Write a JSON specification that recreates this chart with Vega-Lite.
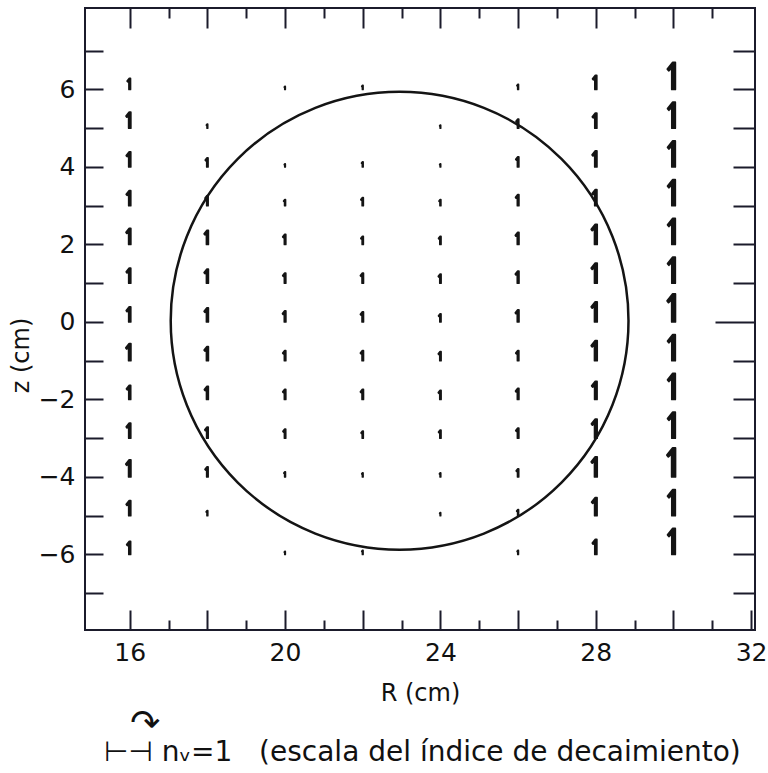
{
  "$schema": "https://vega.github.io/schema/vega-lite/v6.json",
  "autosize": {"type": "none"},
  "width": 670,
  "height": 622,
  "padding": {"left": 85, "top": 8, "right": 13, "bottom": 143},
  "background": "white",
  "config": {
    "view": {"stroke": "#1b1b2b", "strokeWidth": 2},
    "font": "DejaVu Sans",
    "axis": {
      "domain": false,
      "grid": false,
      "tickColor": "#1b1b2b",
      "tickWidth": 2,
      "labelFont": "DejaVu Sans",
      "labelFontSize": 25,
      "labelColor": "#111111",
      "titleFont": "DejaVu Sans",
      "titleFontSize": 24,
      "titleFontWeight": "normal",
      "titleColor": "#111111",
      "labelOverlap": false,
      "labelFlush": false
    }
  },
  "title": {
    "text": "\u2800\u21b7",
    "subtitle": "\u22a2\u22a3 n\u1d65=1\u00a0\u00a0 (escala del \u00edndice de decaimiento)",
    "orient": "bottom",
    "anchor": "start",
    "font": "DejaVu Sans",
    "fontSize": 36,
    "fontWeight": "normal",
    "color": "#111111",
    "subtitleFont": "DejaVu Sans",
    "subtitleFontSize": 28,
    "subtitleColor": "#111111",
    "subtitlePadding": -4,
    "offset": 2,
    "dx": 95
  },
  "datasets": {
    "decay": [
      {"R": 16, "z": 6, "n": 0.55}, {"R": 16, "z": 5, "n": 0.8}, {"R": 16, "z": 4, "n": 0.75},
      {"R": 16, "z": 3, "n": 0.75}, {"R": 16, "z": 2, "n": 0.8}, {"R": 16, "z": 1, "n": 0.75},
      {"R": 16, "z": 0, "n": 0.75}, {"R": 16, "z": -1, "n": 0.85}, {"R": 16, "z": -2, "n": 0.7},
      {"R": 16, "z": -3, "n": 0.75}, {"R": 16, "z": -4, "n": 0.85}, {"R": 16, "z": -5, "n": 0.75},
      {"R": 16, "z": -6, "n": 0.65},
      {"R": 18, "z": 5, "n": 0.2}, {"R": 18, "z": 4, "n": 0.45}, {"R": 18, "z": 3, "n": 0.5},
      {"R": 18, "z": 2, "n": 0.7}, {"R": 18, "z": 1, "n": 0.7}, {"R": 18, "z": 0, "n": 0.7},
      {"R": 18, "z": -1, "n": 0.7}, {"R": 18, "z": -2, "n": 0.65}, {"R": 18, "z": -3, "n": 0.55},
      {"R": 18, "z": -4, "n": 0.5}, {"R": 18, "z": -5, "n": 0.25},
      {"R": 20, "z": 6, "n": 0.15}, {"R": 20, "z": 4, "n": 0.15}, {"R": 20, "z": 3, "n": 0.3},
      {"R": 20, "z": 2, "n": 0.5}, {"R": 20, "z": 1, "n": 0.5}, {"R": 20, "z": 0, "n": 0.55},
      {"R": 20, "z": -1, "n": 0.5}, {"R": 20, "z": -2, "n": 0.5}, {"R": 20, "z": -3, "n": 0.45},
      {"R": 20, "z": -4, "n": 0.25}, {"R": 20, "z": -6, "n": 0.15},
      {"R": 22, "z": 6, "n": 0.2}, {"R": 22, "z": 4, "n": 0.25}, {"R": 22, "z": 3, "n": 0.4},
      {"R": 22, "z": 2, "n": 0.4}, {"R": 22, "z": 1, "n": 0.5}, {"R": 22, "z": 0, "n": 0.5},
      {"R": 22, "z": -1, "n": 0.5}, {"R": 22, "z": -2, "n": 0.5}, {"R": 22, "z": -3, "n": 0.35},
      {"R": 22, "z": -4, "n": 0.2}, {"R": 22, "z": -6, "n": 0.2},
      {"R": 24, "z": 5, "n": 0.15}, {"R": 24, "z": 4, "n": 0.15}, {"R": 24, "z": 3, "n": 0.3},
      {"R": 24, "z": 2, "n": 0.4}, {"R": 24, "z": 1, "n": 0.45}, {"R": 24, "z": 0, "n": 0.4},
      {"R": 24, "z": -1, "n": 0.45}, {"R": 24, "z": -2, "n": 0.45}, {"R": 24, "z": -3, "n": 0.4},
      {"R": 24, "z": -4, "n": 0.2}, {"R": 24, "z": -5, "n": 0.15},
      {"R": 26, "z": 6, "n": 0.25}, {"R": 26, "z": 5, "n": 0.45}, {"R": 26, "z": 4, "n": 0.5},
      {"R": 26, "z": 3, "n": 0.55}, {"R": 26, "z": 2, "n": 0.6}, {"R": 26, "z": 1, "n": 0.6},
      {"R": 26, "z": 0, "n": 0.6}, {"R": 26, "z": -1, "n": 0.5}, {"R": 26, "z": -2, "n": 0.55},
      {"R": 26, "z": -3, "n": 0.5}, {"R": 26, "z": -4, "n": 0.4}, {"R": 26, "z": -5, "n": 0.3},
      {"R": 26, "z": -6, "n": 0.2},
      {"R": 28, "z": 6, "n": 0.7}, {"R": 28, "z": 5, "n": 0.75}, {"R": 28, "z": 4, "n": 0.8},
      {"R": 28, "z": 3, "n": 0.8}, {"R": 28, "z": 2, "n": 1.0}, {"R": 28, "z": 1, "n": 1.0},
      {"R": 28, "z": 0, "n": 1.0}, {"R": 28, "z": -1, "n": 1.0}, {"R": 28, "z": -2, "n": 0.9},
      {"R": 28, "z": -3, "n": 0.95}, {"R": 28, "z": -4, "n": 1.0}, {"R": 28, "z": -5, "n": 0.9},
      {"R": 28, "z": -6, "n": 0.75},
      {"R": 30, "z": 6, "n": 1.35}, {"R": 30, "z": 5, "n": 1.3}, {"R": 30, "z": 4, "n": 1.3},
      {"R": 30, "z": 3, "n": 1.3}, {"R": 30, "z": 2, "n": 1.3}, {"R": 30, "z": 1, "n": 1.3},
      {"R": 30, "z": 0, "n": 1.4}, {"R": 30, "z": -1, "n": 1.3}, {"R": 30, "z": -2, "n": 1.3},
      {"R": 30, "z": -3, "n": 1.3}, {"R": 30, "z": -4, "n": 1.45}, {"R": 30, "z": -5, "n": 1.3},
      {"R": 30, "z": -6, "n": 1.3}
    ],
    "plasma": [
      {"R": 22.95, "z": 0.03, "diameter": 11.8}
    ]
  },
  "layer": [
    {
      "data": {"name": "decay"},
      "mark": {
        "type": "point",
        "shape": "M 0.14 0 L 0.14 -2 L -0.05 -2 L -0.45 -1.5 L -0.35 -1.38 L -0.12 -1.6 L -0.12 0 Z",
        "fill": "#141414",
        "stroke": "#141414",
        "strokeWidth": 1.8,
        "strokeJoin": "round",
        "opacity": 1,
        "fillOpacity": 1
      },
      "encoding": {
        "x": {
          "field": "R", "type": "quantitative",
          "scale": {"domain": [14.85, 32.1], "nice": false, "zero": false},
          "axis": {
            "orient": "bottom",
            "title": "R (cm)",
            "values": [16, 17, 18, 19, 20, 21, 22, 23, 24, 25, 26, 27, 28, 29, 30, 31, 32],
            "tickSize": {"condition": {"test": "datum.value % 2 == 0", "value": -20}, "value": -10},
            "labelExpr": "datum.value % 4 == 0 ? datum.label : ''",
            "labelPadding": 30,
            "titlePadding": 6
          }
        },
        "y": {
          "field": "z", "type": "quantitative",
          "scale": {"domain": [-7.95, 8.1], "nice": false, "zero": false},
          "axis": {
            "orient": "left",
            "title": "z (cm)",
            "values": [-7, -6, -5, -4, -3, -2, -1, 0, 1, 2, 3, 4, 5, 6, 7],
            "tickSize": -18,
            "labelExpr": "datum.value % 2 == 0 ? datum.label : ''",
            "labelPadding": 28,
            "titleX": -52,
            "titleY": 347
          }
        },
        "size": {
          "field": "n", "type": "quantitative",
          "scale": {"type": "pow", "exponent": 2, "domain": [0, 1], "range": [0, 400]},
          "legend": null
        }
      }
    },
    {
      "data": {"name": "plasma"},
      "mark": {"type": "point", "shape": "circle", "filled": false, "stroke": "#141414", "strokeWidth": 2.5, "opacity": 1},
      "encoding": {
        "x": {
          "field": "R", "type": "quantitative",
          "scale": {"domain": [14.85, 32.1], "nice": false, "zero": false},
          "axis": {
            "orient": "top",
            "title": null,
            "labels": false,
            "values": [16, 17, 18, 19, 20, 21, 22, 23, 24, 25, 26, 27, 28, 29, 30, 31],
            "tickSize": {"condition": {"test": "datum.value % 2 == 0", "value": -20}, "value": -10}
          }
        },
        "y": {
          "field": "z", "type": "quantitative",
          "scale": {"domain": [-7.95, 8.1], "nice": false, "zero": false},
          "axis": {
            "orient": "right",
            "title": null,
            "labels": false,
            "values": [-7, -6, -5, -4, -3, -2, -1, 0, 1, 2, 3, 4, 5, 6, 7],
            "tickSize": {"condition": {"test": "datum.value == 0", "value": -40}, "value": -22}
          }
        },
        "size": {
          "field": "diameter", "type": "quantitative",
          "scale": {"type": "pow", "exponent": 2, "domain": [0, 1], "range": [0, 1505]},
          "legend": null
        }
      }
    }
  ],
  "resolve": {
    "axis": {"x": "independent", "y": "independent"},
    "scale": {"size": "independent"}
  }
}
